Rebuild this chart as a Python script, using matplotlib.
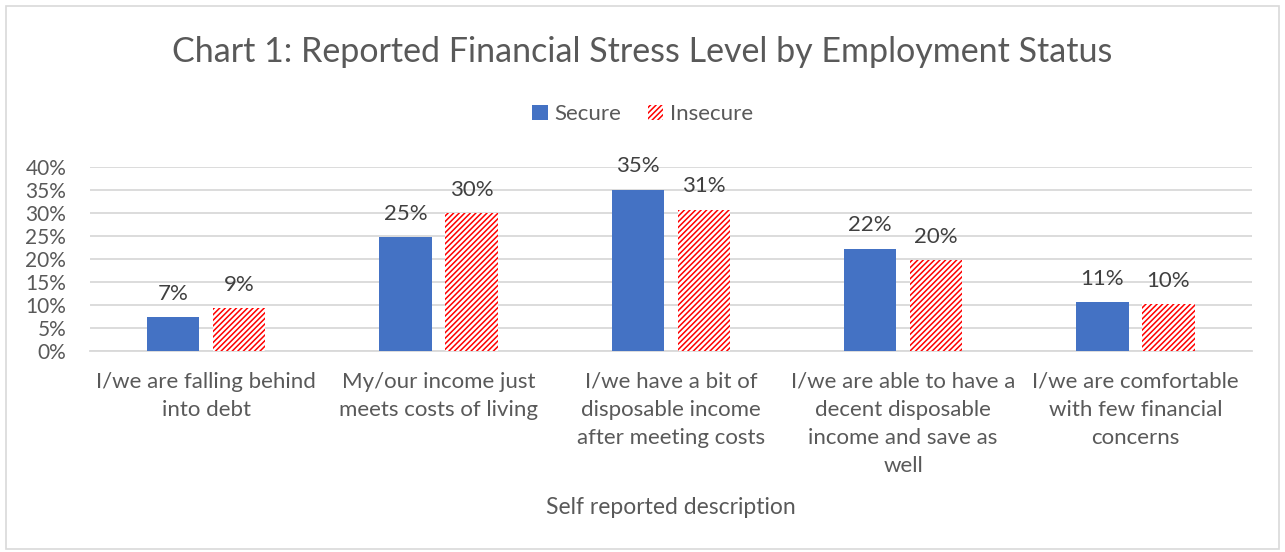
import numpy as np
import matplotlib.pyplot as plt
import matplotlib as mpl
from matplotlib.patches import Rectangle

categories = [
    'I/we are falling behind\ninto debt',
    'My/our income just\nmeets costs of living',
    'I/we have a bit of\ndisposable income\nafter meeting costs',
    'I/we are able to have a\ndecent disposable\nincome and save as\nwell',
    'I/we are comfortable\nwith few financial\nconcerns',
]
secure = [7.4, 24.8, 35.1, 22.3, 10.7]
insecure = [9.4, 30.0, 30.8, 19.8, 10.2]
secure_labels = ['7%', '25%', '35%', '22%', '11%']
insecure_labels = ['9%', '30%', '31%', '20%', '10%']
yticks = [0, 5, 10, 15, 20, 25, 30, 35, 40]

mpl.rcParams['font.family'] = ['Lato', 'DejaVu Sans']
mpl.rcParams['hatch.linewidth'] = 1.1
text_col = '#595959'

fig = plt.figure(figsize=(12.85, 5.52), dpi=100)
ax = fig.add_axes([0.070, 0.364, 0.904, 0.333])

x = np.arange(len(categories))
w = 0.225
off = 0.142
ax.bar(x - off, secure, w, color='#4472C4', label='Secure', zorder=3)
ax.bar(x + off, insecure, w, color='white', edgecolor='#FF0000', linewidth=0,
       hatch='//////', label='Insecure', zorder=3)

for xi, v, s in zip(x - off, secure, secure_labels):
    ax.text(xi, v + 2.9, s, ha='center', va='bottom', fontsize=16, color='#404040')
for xi, v, s in zip(x + off, insecure, insecure_labels):
    ax.text(xi, v + 2.9, s, ha='center', va='bottom', fontsize=16, color='#404040')

ax.set_xlim(-0.5, len(categories) - 0.5)
ax.set_ylim(0, 40)
ax.set_yticks(yticks)
ax.set_yticklabels([f'{t}%' for t in yticks])
ax.set_xticks(x)
ax.set_xticklabels(categories, linespacing=1.5)
ax.tick_params(axis='x', length=0, labelsize=16, labelcolor=text_col, pad=15)
ax.tick_params(axis='y', length=0, labelsize=15, labelcolor=text_col, pad=17)
ax.grid(axis='y', color='#D9D9D9', linewidth=1.3, zorder=0)
for sp in ['top', 'right', 'left']:
    ax.spines[sp].set_visible(False)
ax.spines['bottom'].set_color('#D9D9D9')
ax.spines['bottom'].set_linewidth(1.3)

ax.set_xlabel('Self reported description', fontsize=16.5, color=text_col, labelpad=15)

fig.text(0.5, 0.905, 'Chart 1: Reported Financial Stress Level by Employment Status',
         ha='center', va='center', fontsize=24.5, color=text_col)

leg = fig.legend(loc='center', bbox_to_anchor=(0.5, 0.793), ncol=2, frameon=False,
                 fontsize=16, handlelength=0.7, handleheight=0.7, handletextpad=0.3,
                 columnspacing=1.2)
for t in leg.get_texts():
    t.set_color(text_col)

fig.patches.append(Rectangle((0.005, 0.005), 0.99, 0.985, transform=fig.transFigure,
                             fill=False, edgecolor='#D9D9D9', linewidth=1.2))

fig.savefig('out.png', dpi=100, facecolor='white')
